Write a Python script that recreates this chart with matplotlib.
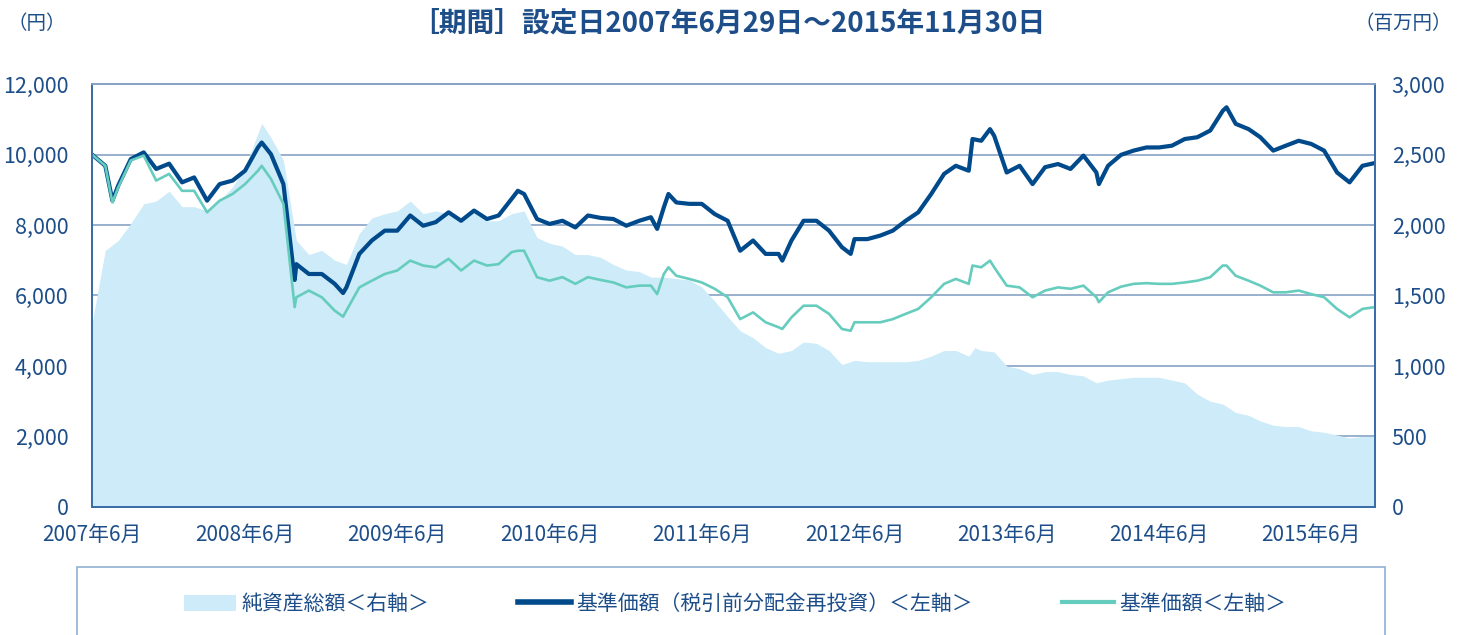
import matplotlib
matplotlib.use("Agg")
import matplotlib.pyplot as plt
from matplotlib.patches import Patch, Rectangle
from matplotlib.lines import Line2D
from matplotlib.ticker import FuncFormatter
import pandas as pd

# ---- data (月末値, 画像から読み取り) ----
dates = [pd.Timestamp("2007-06-29")] + list(
    pd.date_range("2007-07-01", periods=101, freq="MS") + pd.offsets.MonthEnd(0))

# 基準価額(税引前分配金再投資) 円
nav_reinvest = [
    10000, 9680, 9120, 9870, 10060, 9590, 9740, 9210, 9350, 8690, 9160, 9260,
    9540, 10200, 10010, 9160, 6890, 6610, 6610, 6330, 6230, 7180, 7560, 7840,
    7840, 8270, 7980, 8080, 8360, 8120, 8410, 8170, 8270, 8740, 8880, 8170,
    8030, 8120, 7930, 8270, 8200, 8170, 7980, 8120, 8220, 8500, 8640, 8600,
    8600, 8310, 8120, 7270, 7560, 7180, 7180, 7560, 8120, 8120, 7840, 7370,
    7600, 7600, 7700, 7840, 8120, 8360, 8880, 9450, 9680, 9540, 10390, 10530,
    9490, 9680, 9160, 9640, 9730, 9590, 9970, 9490, 9680, 9990, 10110, 10200,
    10200, 10250, 10440, 10490, 10680, 11240, 10870, 10720, 10490, 10110, 10250, 10390,
    10300, 10110, 9490, 9210, 9680, 9760,
]

# 基準価額 円
nav = [
    10000, 9680, 9070, 9830, 9970, 9260, 9450, 8970, 8970, 8360, 8690, 8880,
    9160, 9540, 9310, 8600, 5950, 6140, 5950, 5570, 5570, 6230, 6420, 6610,
    6710, 6990, 6850, 6800, 7040, 6710, 6990, 6850, 6890, 7230, 7270, 6520,
    6420, 6520, 6330, 6520, 6440, 6370, 6230, 6280, 6280, 6610, 6560, 6470,
    6370, 6190, 5950, 5330, 5520, 5240, 5100, 5380, 5710, 5710, 5480, 5050,
    5240, 5240, 5240, 5330, 5480, 5620, 5950, 6330, 6470, 6330, 6800, 6800,
    6280, 6230, 5950, 6140, 6230, 6190, 6280, 5950, 6090, 6250, 6330, 6350,
    6330, 6330, 6370, 6420, 6520, 6850, 6560, 6420, 6280, 6090, 6090, 6140,
    6040, 5950, 5620, 5380, 5620, 5670,
]

# 月中の山・谷 (両基準価額)
peak_dates = pd.to_datetime([
    "2007-08-17", "2008-08-09", "2008-10-27", "2009-02-20", "2010-04-15",
    "2011-03-15", "2011-04-11", "2012-01-09", "2012-06-21", "2013-04-09",
    "2013-05-21", "2014-02-06", "2014-12-09",
])
peak_reinvest = [8690, 10340, 6440, 6070, 8970, 7890, 8880, 6990, 7180, 10440, 10720, 9160, 11340]
peak_nav = [8640, 9680, 5670, 5400, 7270, 6040, 6800, 5050, 5000, 6850, 6990, 5810, 6850]

# 純資産総額 百万円
net_assets = [
    1300, 1820, 1890, 2010, 2150, 2170, 2240, 2130, 2130, 2100, 2170, 2270,
    2410, 2650, 2620, 2460, 1890, 1790, 1820, 1750, 1720, 1940, 2050, 2080,
    2100, 2170, 2080, 2100, 2080, 2050, 2100, 2030, 2030, 2080, 2100, 1910,
    1870, 1850, 1790, 1790, 1770, 1720, 1680, 1670, 1630, 1630, 1620, 1610,
    1560, 1460, 1350, 1250, 1200, 1130, 1090, 1110, 1170, 1160, 1110, 1010,
    1040, 1030, 1030, 1030, 1030, 1040, 1070, 1110, 1110, 1070, 1110, 1100,
    1000, 980, 940, 960, 960, 940, 930, 880, 900, 910, 920, 920,
    920, 900, 880, 800, 750, 730, 670, 650, 610, 580, 570, 570,
    540, 530, 510, 490, 500, 500,
]
assets_peak_dates = pd.to_datetime(["2008-08-09", "2013-04-15"])
assets_peak = [2720, 1130]

tick_dates = [pd.Timestamp("2007-06-29")] + [pd.Timestamp(f"{y}-06-30") for y in range(2008, 2016)]
tick_labels = [f"{y}年6月" for y in range(2007, 2016)]


def merged(monthly, extra_idx, extra):
    s = pd.concat([pd.Series(monthly, index=dates), pd.Series(extra, index=extra_idx)])
    return s.sort_index()


s_reinvest = merged(nav_reinvest, peak_dates, peak_reinvest)
s_nav = merged(nav, peak_dates, peak_nav)
s_assets = merged(net_assets, assets_peak_dates, assets_peak)

# ---- style ----
NAVY = "#004A8C"
TEAL = "#66CDBE"
FILL = "#CDEBF8"
GRID = "#87A3C6"
SPINE = "#3A6DA8"
TEXT = "#1D4E89"

plt.rcParams["font.family"] = ["Noto Sans CJK JP", "DejaVu Sans"]

fig = plt.figure(figsize=(14.62, 6.35), dpi=100)
ax2 = fig.add_axes([0.0629, 0.2016, 0.8776, 0.6661])  # 右軸 (純資産)
ax = ax2.twinx()
ax.yaxis.tick_left()
ax2.yaxis.tick_right()
ax.set_zorder(ax2.get_zorder() + 1)
ax.patch.set_visible(False)

# 純資産総額 (右軸)
ax2.fill_between(s_assets.index, s_assets.values, 0, color=FILL, lw=0, zorder=2)
ax2.set_ylim(0, 3000)
ax2.set_yticks(range(0, 3001, 500))
ax2.grid(axis="y", color=GRID, lw=1.2, zorder=1)
ax2.set_axisbelow(True)

# 基準価額 (左軸)
ax.plot(s_reinvest.index, s_reinvest.values, color=NAVY, lw=3.0, solid_joinstyle="round")
ax.plot(s_nav.index, s_nav.values, color=TEAL, lw=1.9, solid_joinstyle="round")
ax.set_ylim(0, 12000)
ax.set_yticks(range(0, 12001, 2000))

for a in (ax, ax2):
    a.set_xlim(dates[0], dates[-1])
    for s in a.spines.values():
        s.set_color(SPINE)
        s.set_linewidth(1.3)
    a.spines["top"].set_color(GRID)

fmt = FuncFormatter(lambda v, p: f"{int(v):,}")
ax.yaxis.set_major_formatter(fmt)
ax2.yaxis.set_major_formatter(fmt)
ax.tick_params(axis="y", length=0, pad=17, labelsize=15.5, labelcolor=TEXT)
ax2.tick_params(axis="y", length=0, pad=12, labelsize=15.5, labelcolor=TEXT)

ax2.set_xticks(tick_dates)
ax2.set_xticklabels(tick_labels)
ax2.tick_params(axis="x", direction="in", length=5, color=SPINE, pad=12,
                labelsize=15, labelcolor=TEXT)
ax.tick_params(axis="x", bottom=False, labelbottom=False)

# ---- texts ----
fig.text(0.005, 0.963, "（円）", fontsize=14, color=TEXT, va="center", ha="left")
fig.text(0.993, 0.963, "（百万円）", fontsize=14, color=TEXT, va="center", ha="right")
fig.text(0.498, 0.963, "［期間］設定日2007年6月29日～2015年11月30日", fontsize=20,
         fontweight="bold", color=TEXT, va="center", ha="center")

# ---- legend ----
fig.add_artist(Rectangle((77 / 1462, -0.05), 1308 / 1462, 0.05 + 1 - 567 / 635,
                         transform=fig.transFigure, fill=False, edgecolor="#8FB0D3", lw=1.2))
handles = [
    Patch(facecolor=FILL, edgecolor="none"),
    Line2D([], [], color=NAVY, lw=4),
    Line2D([], [], color=TEAL, lw=3),
]
labels = ["純資産総額＜右軸＞", "基準価額（税引前分配金再投資）＜左軸＞", "基準価額＜左軸＞"]
fig.legend(handles, labels, loc="center", bbox_to_anchor=(735 / 1462, 1 - 604 / 635),
           ncol=3, frameon=False, fontsize=15, handlelength=2.5, handleheight=0.8,
           handletextpad=0.25, columnspacing=4.3, labelcolor=TEXT)

fig.savefig("out.png", dpi=100)
